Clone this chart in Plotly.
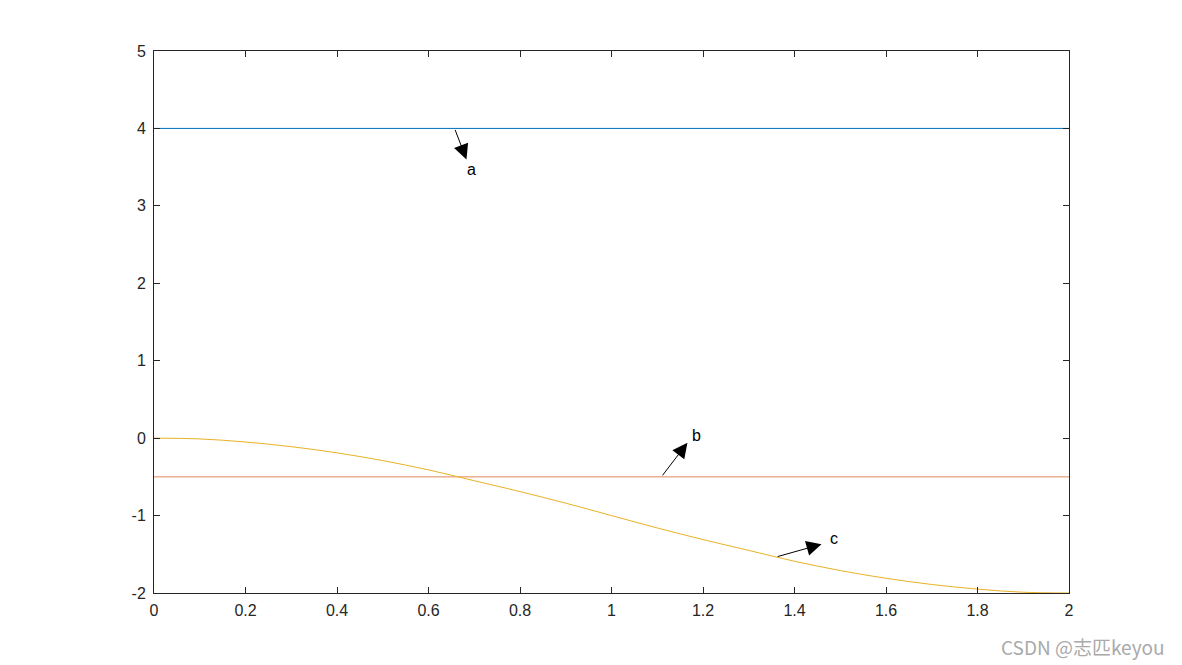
import plotly.graph_objects as go

# Data
x_vals = [0, 0.1, 0.2, 0.3, 0.4, 0.5, 0.6, 0.7, 0.8, 0.9, 1.0,
          1.1, 1.2, 1.3, 1.4, 1.5, 1.6, 1.7, 1.8, 1.9, 2.0]
a_vals = [4] * len(x_vals)
b_vals = [-0.5] * len(x_vals)
c_vals = [0, -0.01, -0.05, -0.11, -0.19, -0.29, -0.41, -0.55, -0.69, -0.84, -1.0,
          -1.16, -1.31, -1.45, -1.59, -1.71, -1.81, -1.89, -1.95, -1.99, -2.0]

# annotations: label, tail (x,y), head (x,y), text position (x,y)
ann_labels = ["a", "b", "c"]
ann_tails = [(0.657, 4.0), (1.109, -0.5), (1.360, -1.535)]
ann_heads = [(0.683, 3.60), (1.166, -0.06), (1.459, -1.37)]
ann_text_pos = [(0.695, 3.47), (1.186, 0.03), (1.486, -1.29)]

xticks = [0, 0.2, 0.4, 0.6, 0.8, 1, 1.2, 1.4, 1.6, 1.8, 2]
xtick_text = ["0", "0.2", "0.4", "0.6", "0.8", "1", "1.2", "1.4", "1.6", "1.8", "2"]
yticks = [-2, -1, 0, 1, 2, 3, 4, 5]
ytick_text = ["-2", "-1", "0", "1", "2", "3", "4", "5"]

fig = go.Figure()
fig.add_trace(go.Scatter(x=x_vals, y=a_vals, mode="lines",
                         line=dict(color="#0072BD", width=1), showlegend=False))
fig.add_trace(go.Scatter(x=x_vals, y=b_vals, mode="lines",
                         line=dict(color="#E2875C", width=1), showlegend=False))
fig.add_trace(go.Scatter(x=x_vals, y=c_vals, mode="lines", line_shape="spline",
                         line=dict(color="#E8B224", width=1), showlegend=False))

annotations = []
for lab, (tx, ty), (hx, hy), (px, py) in zip(ann_labels, ann_tails, ann_heads, ann_text_pos):
    annotations.append(dict(x=hx, y=hy, ax=tx, ay=ty, xref="x", yref="y",
                            axref="x", ayref="y", text="", showarrow=True,
                            arrowhead=2, arrowsize=3, arrowwidth=1, arrowcolor="black",
                            standoff=0, startstandoff=0))
    annotations.append(dict(x=px, y=py, xref="x", yref="y", text=lab, showarrow=False,
                            font=dict(family="Liberation Sans, Arial", size=16, color="black")))

# page body has an 8px offset
W, H = 1182, 665
L, R, T, B = 146, 121, 43, 80
pw, ph = W - L - R, H - T - B
annotations.append(dict(x=(1159 - L) / pw, y=(H - B - 638) / ph, xref="paper", yref="paper",
                        text="CSDN @志匹keyou", showarrow=False,
                        xanchor="right", yanchor="middle",
                        font=dict(family="Noto Sans CJK SC", size=19, color="#AAAAAA")))

fig.update_layout(
    width=W, height=H,
    margin=dict(l=L, r=R, t=T, b=B),
    paper_bgcolor="white", plot_bgcolor="white",
    annotations=annotations,
    font=dict(family="Liberation Sans, Arial", size=16, color="#262626"),
)
fig.update_xaxes(range=[0, 2], tickvals=xticks, ticktext=xtick_text,
                 ticks="inside", ticklen=6, tickcolor="#262626", tickwidth=1,
                 showline=True, linecolor="#262626", linewidth=1, mirror="ticks",
                 showgrid=False, zeroline=False, ticklabelstandoff=3,
                 tickfont=dict(size=16, color="#262626"))
fig.update_yaxes(range=[-2, 5], tickvals=yticks, ticktext=ytick_text,
                 ticks="inside", ticklen=6, tickcolor="#262626", tickwidth=1,
                 showline=True, linecolor="#262626", linewidth=1, mirror="ticks",
                 showgrid=False, zeroline=False, ticklabelstandoff=4,
                 tickfont=dict(size=16, color="#262626"))

fig.write_html("out.html")
